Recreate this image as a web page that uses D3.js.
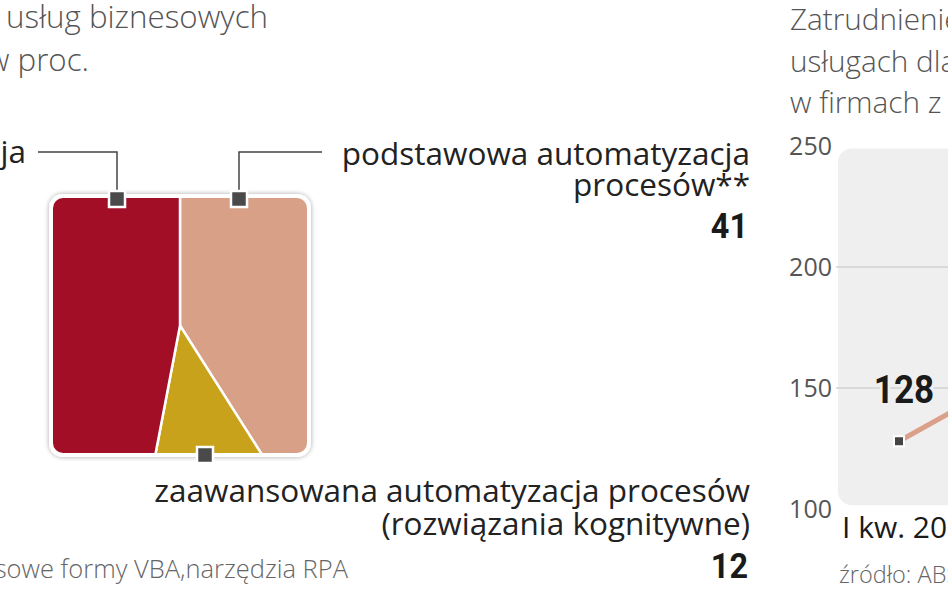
<!DOCTYPE html>
<html>
<head>
<meta charset="utf-8">
<script src="https://cdn.jsdelivr.net/npm/d3@7"></script>
<style>
  body { margin: 0; background: #fff; }
  svg { display: block; }
  .title { font-family: "Open Sans", sans-serif; font-weight: 300; font-size: 31.3px; fill: #555; }
  .label { font-family: "Open Sans", sans-serif; font-size: 31.5px; fill: #222; }
  .num { font-family: "Roboto", sans-serif; font-weight: 700; font-size: 36px; fill: #1a1a1a; }
  .note { font-family: "Open Sans", sans-serif; font-weight: 300; font-size: 25.5px; fill: #666; }
  .tick text { font-family: "Open Sans", sans-serif; font-size: 25px; fill: #555; }
</style>
</head>
<body>
<div id="chart"></div>
<script>
// share of processes by automation level, in percent
const sliceNames = ["podstawowa automatyzacja procesów**", "zaawansowana automatyzacja procesów (rozwiązania kognitywne)", "ręczna realizacja"];
const sliceValues = [41, 12, 47];
const sliceColors = ["#d9a088", "#c9a21c", "#a30e27"];

// employment (thousands), first quarter of each year
const quarters = ["I kw. 2014", "I kw. 2015", "I kw. 2016", "I kw. 2017", "I kw. 2018"];
const employment = [128, 158, 183, 212, 244];
const yTicks = [100, 150, 200, 250];

const W = 948, H = 593;
const svg = d3.select("#chart").append("svg")
  .attr("width", W)
  .attr("height", H);

const defs = svg.append("defs");
const shadow = defs.append("filter").attr("id", "shadow")
  .attr("x", "-10%").attr("y", "-10%").attr("width", "120%").attr("height", "120%");
shadow.append("feGaussianBlur").attr("in", "SourceAlpha").attr("stdDeviation", 2.5);
shadow.append("feComponentTransfer").append("feFuncA").attr("type", "linear").attr("slope", 0.35);
const merge = shadow.append("feMerge");
merge.append("feMergeNode");
merge.append("feMergeNode").attr("in", "SourceGraphic");

// bold numbers are a condensed face in the original, squeeze them a bit
function numText(x, y, size, anchor, txt, halo) {
  const t = svg.append("g")
    .attr("transform", `translate(${x},${y}) scale(0.9,1)`)
    .append("text")
    .attr("class", "num")
    .attr("text-anchor", anchor)
    .style("font-size", size + "px")
    .text(txt);
  if (halo) {
    t.attr("stroke", halo).attr("stroke-width", 6).attr("paint-order", "stroke");
  }
  return t;
}

// ---- left: titles
svg.append("text").attr("class", "title")
  .attr("x", 268).attr("y", 28).attr("text-anchor", "end")
  .text("Automatyzacja w centrach usług biznesowych");
svg.append("text").attr("class", "title")
  .attr("x", 89).attr("y", 71).attr("text-anchor", "end")
  .text("2018 r., w proc.");

// ---- square pie
const box = {x: 53, y: 198, w: 254, h: 255, r: 10};
const cx = box.x + box.w / 2, cy = box.y + box.h / 2;

defs.append("clipPath").attr("id", "boxClip")
  .append("rect")
  .attr("x", box.x).attr("y", box.y)
  .attr("width", box.w).attr("height", box.h)
  .attr("rx", box.r);

svg.append("rect")
  .attr("x", box.x - 4).attr("y", box.y - 4)
  .attr("width", box.w + 8).attr("height", box.h + 8)
  .attr("rx", box.r + 4)
  .attr("fill", "#fff")
  .attr("filter", "url(#shadow)");

const pie = d3.pie().sort(null).value(d => d);
const arc = d3.arc().innerRadius(0).outerRadius(400);

svg.append("g")
  .attr("clip-path", "url(#boxClip)")
  .append("g")
  .attr("transform", `translate(${cx},${cy})`)
  .selectAll("path")
  .data(pie(sliceValues))
  .join("path")
  .attr("d", arc)
  .attr("fill", (d, i) => sliceColors[i])
  .attr("stroke", "#fff")
  .attr("stroke-width", 2.5);

// leader lines
const leaderY = 152;
const lines = svg.append("g").attr("fill", "none").attr("stroke", "#444").attr("stroke-width", 1.5);
lines.append("path").attr("d", `M${cx - 63},${box.y} V${leaderY} H38`);
lines.append("path").attr("d", `M${cx + 59},${box.y} V${leaderY} H322`);

// markers
const markers = [[cx - 63, box.y + 1], [cx + 59, box.y + 1], [cx + 25, box.y + box.h + 2]];
svg.selectAll(".marker")
  .data(markers)
  .join("rect")
  .attr("class", "marker")
  .attr("x", d => d[0] - 8).attr("y", d => d[1] - 8)
  .attr("width", 16).attr("height", 16)
  .attr("fill", "#4a4a4a")
  .attr("stroke", "#fff")
  .attr("stroke-width", 2.5);

// slice labels
svg.append("text").attr("class", "label")
  .attr("x", 26).attr("y", 163).attr("text-anchor", "end")
  .text(sliceNames[2]);

svg.append("text").attr("class", "label")
  .attr("x", 750).attr("y", 165).attr("text-anchor", "end")
  .text("podstawowa automatyzacja");
svg.append("text").attr("class", "label")
  .attr("x", 750).attr("y", 196).attr("text-anchor", "end")
  .text("procesów**");
numText(748, 238, 36, "end", sliceValues[0]);

svg.append("text").attr("class", "label")
  .attr("x", 750).attr("y", 502).attr("text-anchor", "end")
  .text("zaawansowana automatyzacja procesów");
svg.append("text").attr("class", "label")
  .attr("x", 750).attr("y", 535).attr("text-anchor", "end")
  .text("(rozwiązania kognitywne)");
numText(748, 578, 36, "end", sliceValues[1]);

svg.append("text").attr("class", "note")
  .attr("x", 348).attr("y", 578).attr("text-anchor", "end")
  .text("** procesowe formy VBA,narzędzia RPA");

// ---- right: line chart
const rx0 = 790;
["Zatrudnienie w", "usługach dla biznesu", "w firmach z kapitałem"].forEach((t, i) => {
  svg.append("text").attr("class", "title")
    .attr("x", rx0).attr("y", 30 + i * 41.5)
    .style("font-size", "29.7px")
    .text(t);
});

const y = d3.scaleLinear().domain([100, 250]).range([509, 146]);
const x = d3.scalePoint().domain(quarters).range([899, 899 + 130 * (quarters.length - 1)]);

svg.append("rect")
  .attr("x", 838).attr("y", y(249))
  .attr("width", 700).attr("height", y(101.5) - y(249))
  .attr("rx", 14)
  .attr("fill", "#efefef");

svg.append("g")
  .selectAll("line")
  .data(yTicks.filter(d => d > 100 && d < 250))
  .join("line")
  .attr("x1", 836).attr("x2", 1500)
  .attr("y1", d => y(d)).attr("y2", d => y(d))
  .attr("stroke", "#d2d2d2")
  .attr("stroke-width", 1.5);

const yAxis = svg.append("g")
  .attr("transform", "translate(832,0)")
  .call(d3.axisLeft(y).tickValues(yTicks).tickSize(0).tickPadding(0));
yAxis.select(".domain").remove();

const line = d3.line()
  .x((d, i) => x(quarters[i]))
  .y(d => y(d));

svg.append("path")
  .datum(employment)
  .attr("fill", "none")
  .attr("stroke", "#dba08a")
  .attr("stroke-width", 5)
  .attr("d", line);

svg.selectAll(".dot")
  .data(employment)
  .join("rect")
  .attr("class", "dot")
  .attr("x", (d, i) => x(quarters[i]) - 5)
  .attr("y", d => y(d) - 5)
  .attr("width", 10).attr("height", 10)
  .attr("fill", "#444")
  .attr("stroke", "#fff")
  .attr("stroke-width", 2);

employment.forEach((d, i) => {
  numText(x(quarters[i]) + 5, y(d) - 38, 39, "middle", d, "#efefef");
});

svg.selectAll(".qlab")
  .data(quarters)
  .join("text")
  .attr("class", "label qlab")
  .attr("x", d => x(d) - 57)
  .attr("y", 538)
  .style("font-size", "30px")
  .style("fill", "#1a1a1a")
  .text(d => d);

svg.append("text").attr("class", "note")
  .attr("x", 839).attr("y", 583)
  .style("font-size", "23.5px")
  .text("źródło: ABSL");
</script>
</body>
</html>
